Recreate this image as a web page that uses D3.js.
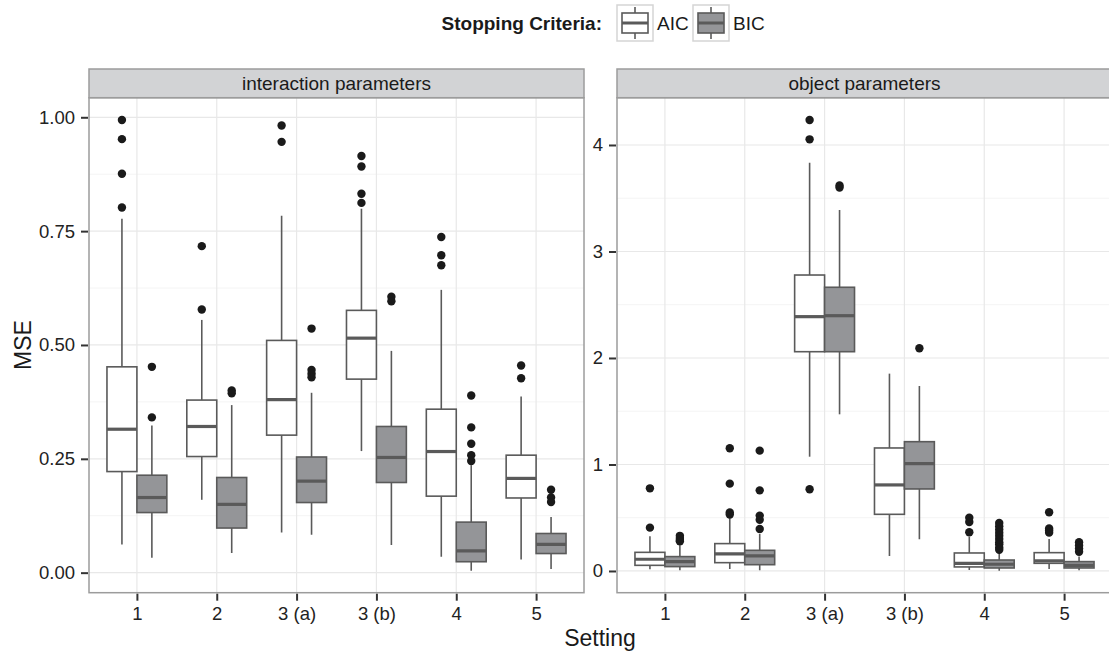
<!DOCTYPE html>
<html>
<head>
<meta charset="utf-8">
<script src="https://cdn.jsdelivr.net/npm/d3@7"></script>
<style>
  body { margin: 0; background: #fff; }
  svg { display: block; font-family: "Liberation Sans", Arial, Helvetica, sans-serif; }
</style>
</head>
<body>
<svg id="chart" width="1109" height="652"></svg>
<script>
var svg = d3.select('#chart');

// categories
const settings = ["1", "2", "3 (a)", "3 (b)", "4", "5"];
const criteria = ["AIC", "BIC"];

// box stats per setting: [lower whisker, q1, median, q3, upper whisker]
const interactionAIC = [
  [0.062, 0.222, 0.315, 0.452, 0.777],
  [0.160, 0.255, 0.321, 0.379, 0.555],
  [0.088, 0.302, 0.380, 0.510, 0.784],
  [0.267, 0.425, 0.515, 0.576, 0.799],
  [0.035, 0.168, 0.266, 0.359, 0.621],
  [0.029, 0.164, 0.207, 0.258, 0.387]
];
const interactionAICOut = [
  [0.994, 0.952, 0.876, 0.802],
  [0.717, 0.578],
  [0.982, 0.946],
  [0.915, 0.892, 0.832, 0.812],
  [0.737, 0.697, 0.675],
  [0.455, 0.427]
];
const interactionBIC = [
  [0.033, 0.132, 0.165, 0.214, 0.323],
  [0.043, 0.098, 0.150, 0.209, 0.368],
  [0.083, 0.154, 0.201, 0.254, 0.395],
  [0.061, 0.198, 0.253, 0.321, 0.487],
  [0.004, 0.024, 0.048, 0.111, 0.236],
  [0.008, 0.042, 0.062, 0.086, 0.122]
];
const interactionBICOut = [
  [0.452, 0.341],
  [0.400, 0.394],
  [0.536, 0.445, 0.437, 0.429],
  [0.606, 0.596],
  [0.389, 0.319, 0.283, 0.258, 0.245],
  [0.182, 0.165, 0.155]
];
const objectAIC = [
  [0.016, 0.053, 0.110, 0.175, 0.326],
  [0.019, 0.078, 0.160, 0.257, 0.495],
  [1.073, 2.059, 2.388, 2.779, 3.834],
  [0.141, 0.532, 0.808, 1.155, 1.853],
  [0.010, 0.038, 0.072, 0.169, 0.322],
  [0.019, 0.072, 0.094, 0.172, 0.300]
];
const objectAICOut = [
  [0.776, 0.407],
  [1.152, 0.820, 0.55, 0.53],
  [4.235, 4.053, 0.767],
  [],
  [0.50, 0.46, 0.363],
  [0.551, 0.40, 0.38, 0.36]
];
const objectBIC = [
  [0.006, 0.041, 0.088, 0.135, 0.250],
  [0.006, 0.059, 0.141, 0.194, 0.347],
  [1.471, 2.059, 2.397, 2.664, 3.390],
  [0.297, 0.770, 1.008, 1.214, 1.737],
  [0.003, 0.028, 0.063, 0.103, 0.190],
  [0.006, 0.028, 0.053, 0.088, 0.135]
];
const objectBICOut = [
  [0.33, 0.31, 0.29, 0.28],
  [1.13, 0.757, 0.52, 0.48, 0.394],
  [3.62, 3.60],
  [2.091],
  [0.45, 0.42, 0.39, 0.36, 0.33, 0.30, 0.27, 0.25, 0.22, 0.20],
  [0.27, 0.24, 0.21, 0.18]
];

const interactionTicks = [0, 0.25, 0.5, 0.75, 1];
const objectTicks = [0, 1, 2, 3, 4];

var fills = {AIC: "#ffffff", BIC: "#949598"};
var boxStroke = "#5a5a5a";
var panelTop = 97.7, panelBottom = 592.7, stripTop = 69;

function drawPanel(opt) {
  var g = svg.append('g');
  var x = d3.scalePoint().domain(settings).range([opt.x0, opt.x1]).padding(0.6);
  var y = d3.scaleLinear().domain(opt.domain).range([panelBottom, panelTop]);
  var step = x.step();
  var bw = step * 0.75 / 2;

  var clipId = 'clip' + opt.id;
  g.append('clipPath').attr('id', clipId).append('rect')
    .attr('x', opt.x0).attr('y', panelTop).attr('width', opt.x1 - opt.x0).attr('height', panelBottom - panelTop);

  var body = g.append('g').attr('clip-path', 'url(#' + clipId + ')');

  // minor grid
  var minors = [];
  for (var i = 0; i < opt.ticks.length - 1; i++) minors.push((opt.ticks[i] + opt.ticks[i + 1]) / 2);
  minors.push(opt.ticks[opt.ticks.length - 1] + (opt.ticks[1] - opt.ticks[0]) / 2);
  minors.push(opt.ticks[0] - (opt.ticks[1] - opt.ticks[0]) / 2);
  body.selectAll('line.minor').data(minors).enter().append('line')
    .attr('x1', opt.x0).attr('x2', opt.x1)
    .attr('y1', d => y(d)).attr('y2', d => y(d))
    .attr('stroke', '#f4f4f4').attr('stroke-width', 1);
  // major grid
  body.selectAll('line.majy').data(opt.ticks).enter().append('line')
    .attr('x1', opt.x0).attr('x2', opt.x1)
    .attr('y1', d => y(d)).attr('y2', d => y(d))
    .attr('stroke', '#e8e8e8').attr('stroke-width', 1.2);
  body.selectAll('line.majx').data(settings).enter().append('line')
    .attr('x1', d => x(d)).attr('x2', d => x(d))
    .attr('y1', panelTop).attr('y2', panelBottom)
    .attr('stroke', '#e8e8e8').attr('stroke-width', 1.2);

  // boxes
  opt.series.forEach(function(s, si) {
    var off = (si === 0 ? -1 : 1) * bw / 2;
    settings.forEach(function(cat, ci) {
      var st = s.stats[ci];
      var cx = x(cat) + off;
      var bg = body.append('g');
      bg.append('line').attr('x1', cx).attr('x2', cx)
        .attr('y1', y(st[0])).attr('y2', y(st[1]))
        .attr('stroke', boxStroke).attr('stroke-width', 1.6);
      bg.append('line').attr('x1', cx).attr('x2', cx)
        .attr('y1', y(st[3])).attr('y2', y(st[4]))
        .attr('stroke', boxStroke).attr('stroke-width', 1.6);
      bg.append('rect')
        .attr('x', cx - bw / 2).attr('width', bw)
        .attr('y', y(st[3])).attr('height', y(st[1]) - y(st[3]))
        .attr('fill', fills[s.name]).attr('stroke', boxStroke).attr('stroke-width', 1.6);
      bg.append('line').attr('x1', cx - bw / 2).attr('x2', cx + bw / 2)
        .attr('y1', y(st[2])).attr('y2', y(st[2]))
        .attr('stroke', boxStroke).attr('stroke-width', 3.2);
      bg.selectAll('circle').data(s.out[ci]).enter().append('circle')
        .attr('cx', cx).attr('cy', d => y(d)).attr('r', 4.2)
        .attr('fill', '#1a1a1a');
    });
  });

  // panel border
  g.append('rect').attr('x', opt.x0).attr('y', panelTop)
    .attr('width', opt.x1 - opt.x0).attr('height', panelBottom - panelTop)
    .attr('fill', 'none').attr('stroke', '#9c9c9c').attr('stroke-width', 1.5);

  // strip
  g.append('rect').attr('x', opt.x0).attr('y', stripTop)
    .attr('width', opt.x1 - opt.x0).attr('height', panelTop - stripTop)
    .attr('fill', '#d2d3d5').attr('stroke', '#9c9c9c').attr('stroke-width', 1.5);
  g.append('text').attr('x', (opt.x0 + Math.min(opt.x1, 1109)) / 2 + (opt.x1 > 1109 ? (opt.x1 - 1109) / 2 : 0))
    .attr('y', (stripTop + panelTop) / 2).attr('dy', '0.35em')
    .attr('text-anchor', 'middle').attr('font-size', 19).attr('fill', '#1a1a1a')
    .text(opt.title);

  // axes
  var yAxis = d3.axisLeft(y).tickValues(opt.ticks).tickFormat(opt.fmt).tickSize(7).tickPadding(6);
  var ya = g.append('g').attr('transform', 'translate(' + (opt.x0 - 1) + ',0)').call(yAxis);
  var xAxis = d3.axisBottom(x).tickSize(7).tickPadding(6);
  var xa = g.append('g').attr('transform', 'translate(0,' + (panelBottom + 1) + ')').call(xAxis);
  [ya, xa].forEach(function(a) {
    a.select('.domain').remove();
    a.selectAll('line').attr('stroke', '#333').attr('stroke-width', 2);
    a.selectAll('text').attr('font-size', 18.5).attr('fill', '#222')
      .attr('font-family', '"Liberation Sans", Arial, sans-serif');
  });
}

drawPanel({
  id: 'a', x0: 89, x1: 584, domain: [-0.044, 1.043], ticks: interactionTicks,
  fmt: d3.format('.2f'), title: 'interaction parameters',
  series: [
    {name: 'AIC', stats: interactionAIC, out: interactionAICOut},
    {name: 'BIC', stats: interactionBIC, out: interactionBICOut}
  ]
});
drawPanel({
  id: 'b', x0: 617, x1: 1112, domain: [-0.204, 4.444], ticks: objectTicks,
  fmt: d3.format('d'), title: 'object parameters',
  series: [
    {name: 'AIC', stats: objectAIC, out: objectAICOut},
    {name: 'BIC', stats: objectBIC, out: objectBICOut}
  ]
});

// axis titles
svg.append('text').attr('x', 600).attr('y', 646)
  .attr('text-anchor', 'middle').attr('font-size', 23).attr('fill', '#1a1a1a')
  .text('Setting');
svg.append('text').attr('transform', 'translate(31,345) rotate(-90)')
  .attr('text-anchor', 'middle').attr('font-size', 23).attr('fill', '#1a1a1a')
  .text('MSE');

// legend
var leg = svg.append('g');
leg.append('text').attr('x', 602).attr('y', 23).attr('dy', '0.35em')
  .attr('text-anchor', 'end').attr('font-size', 19).attr('font-weight', 'bold').attr('fill', '#1a1a1a')
  .text('Stopping Criteria:');
var legX = [617, 693];
criteria.forEach(function(c, i) {
  var kx = legX[i];
  var k = leg.append('g');
  k.append('rect').attr('x', kx).attr('y', 5).attr('width', 36).attr('height', 36)
    .attr('fill', '#fff').attr('stroke', '#d5d5d5').attr('stroke-width', 1.5);
  k.append('line').attr('x1', kx + 18).attr('x2', kx + 18).attr('y1', 7).attr('y2', 39)
    .attr('stroke', boxStroke).attr('stroke-width', 1.6);
  k.append('rect').attr('x', kx + 5).attr('y', 13).attr('width', 26).attr('height', 20)
    .attr('fill', fills[c]).attr('stroke', boxStroke).attr('stroke-width', 1.6);
  k.append('line').attr('x1', kx + 5).attr('x2', kx + 31).attr('y1', 23).attr('y2', 23)
    .attr('stroke', boxStroke).attr('stroke-width', 3);
  k.append('text').attr('x', kx + 40).attr('y', 23).attr('dy', '0.35em')
    .attr('font-size', 19).attr('fill', '#1a1a1a').text(c);
});
</script>
</body>
</html>
